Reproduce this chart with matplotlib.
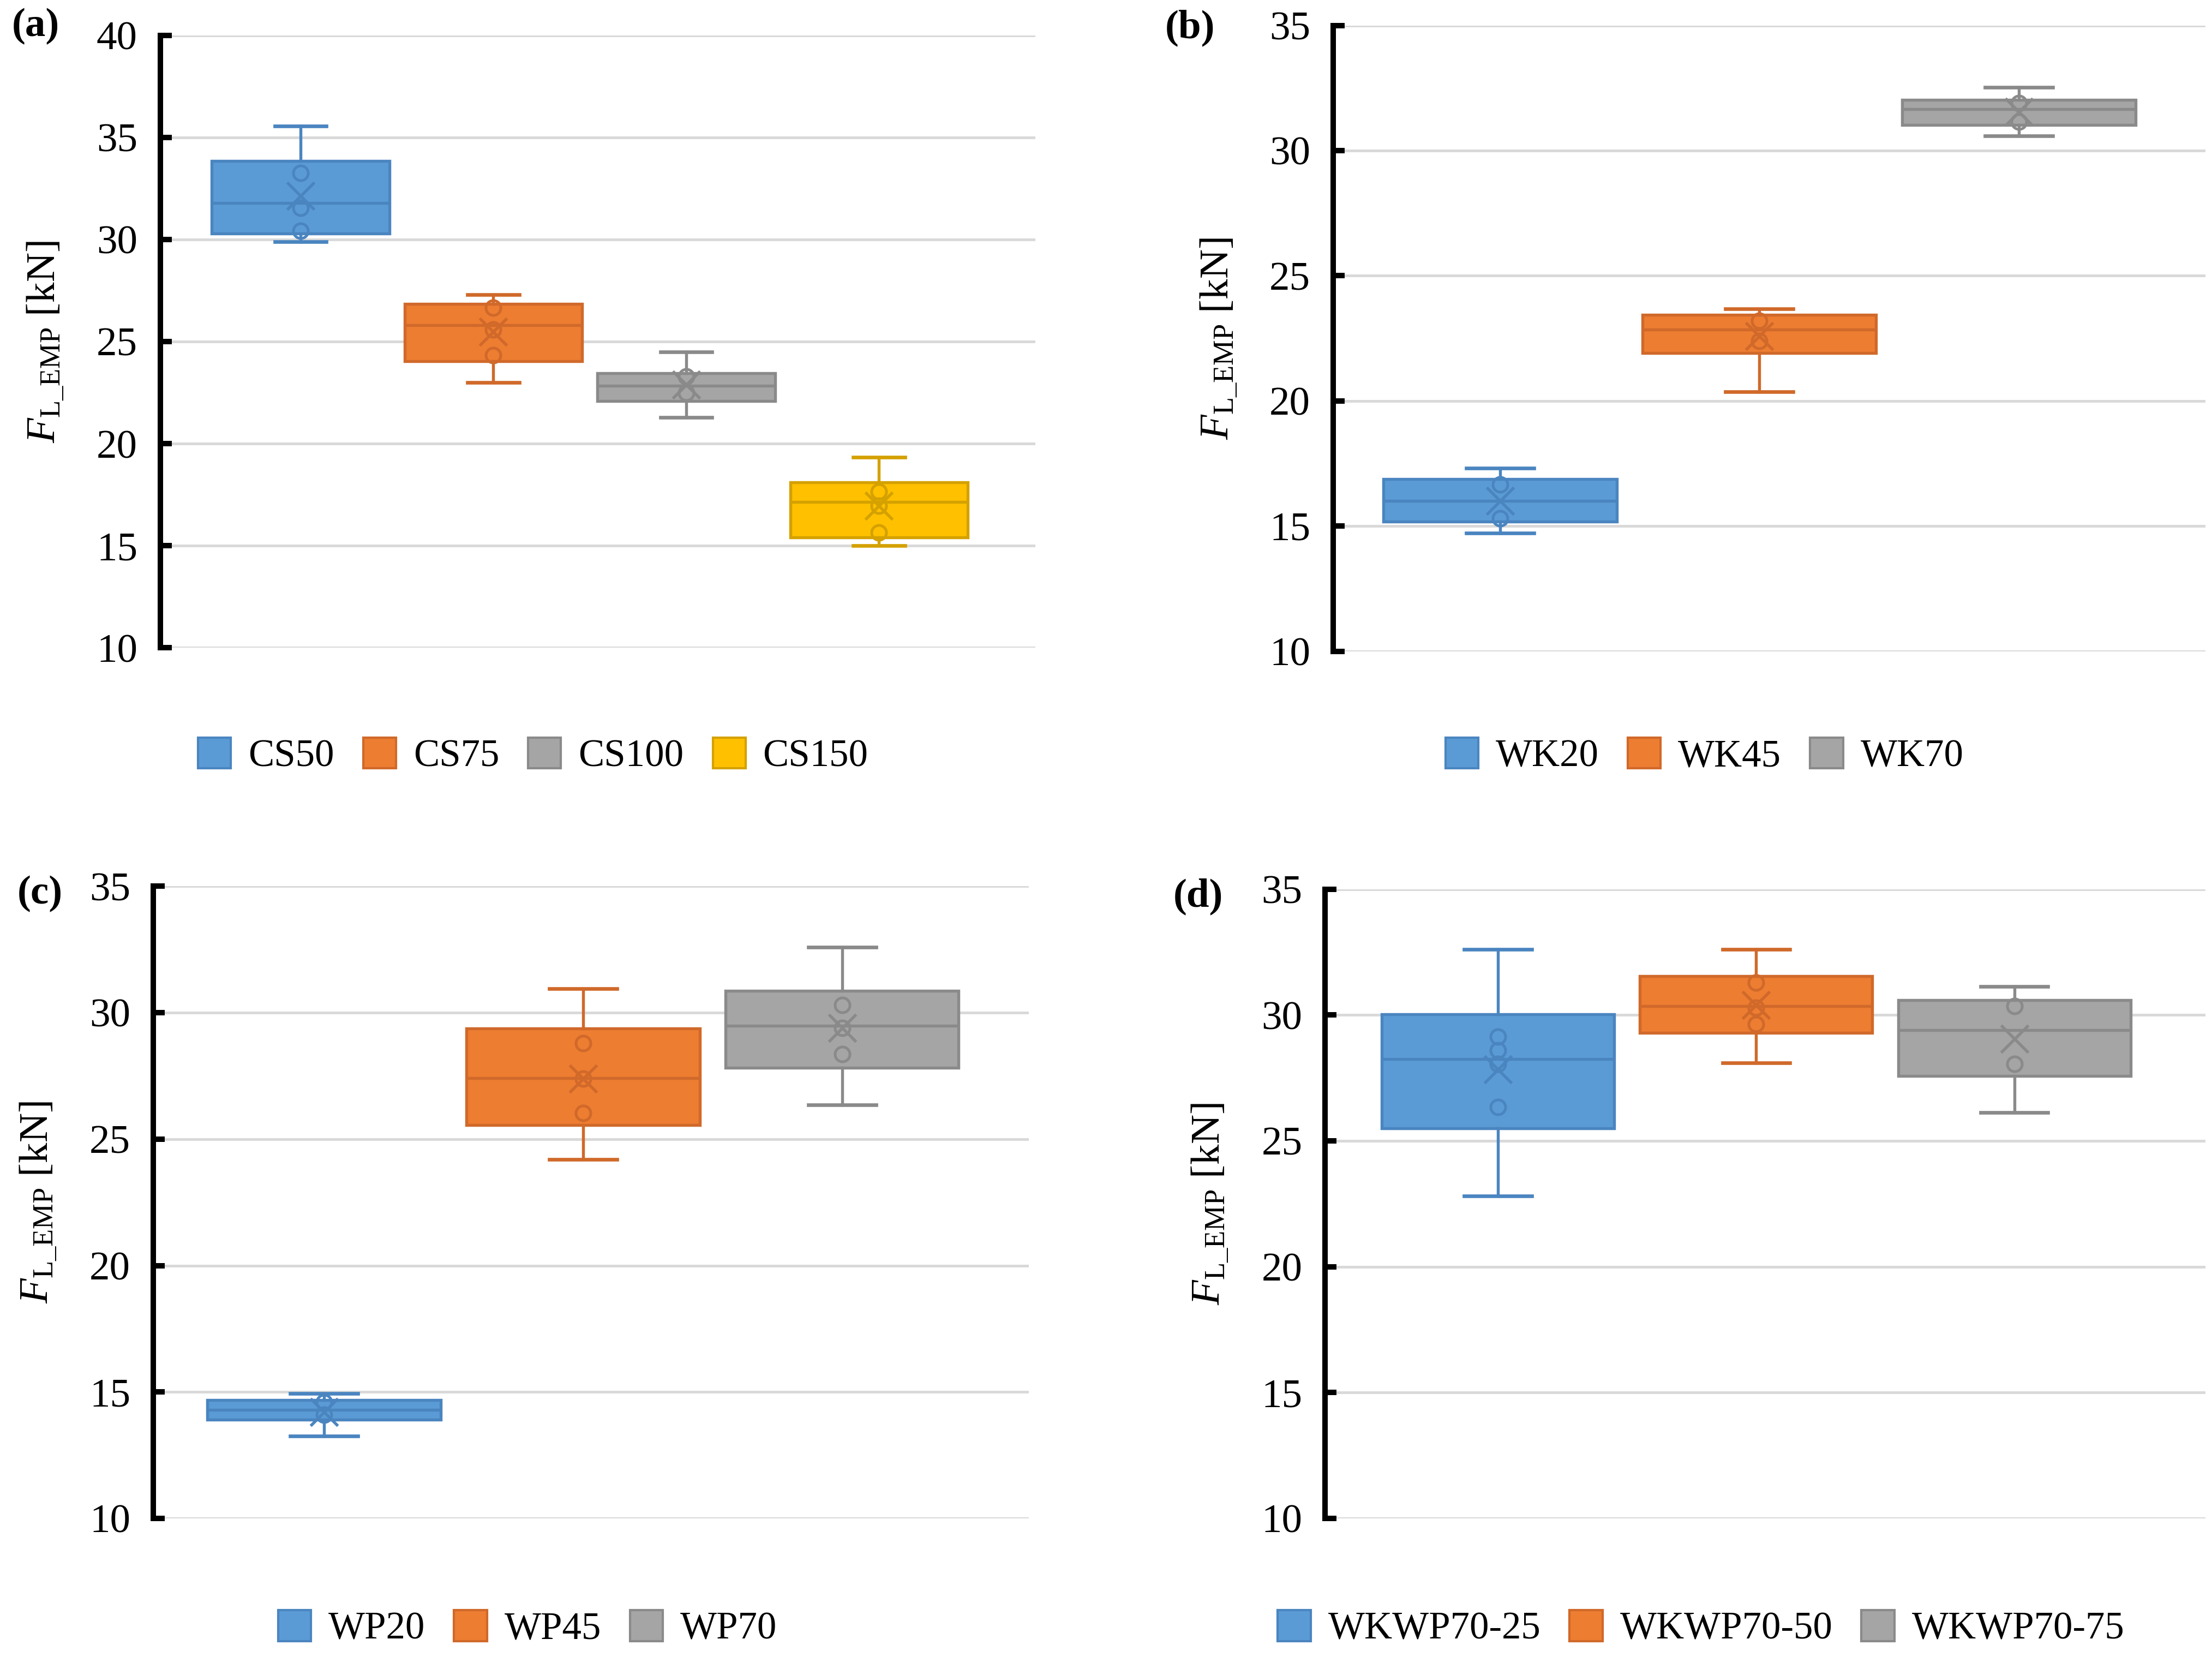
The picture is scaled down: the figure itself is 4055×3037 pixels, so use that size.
import matplotlib
matplotlib.use("Agg")
import matplotlib.pyplot as plt
from matplotlib.patches import Patch

plt.rcParams['font.family'] = ['Liberation Serif', 'DejaVu Serif']
plt.rcParams['mathtext.fontset'] = 'custom'
plt.rcParams['mathtext.rm'] = 'Liberation Serif'
plt.rcParams['mathtext.it'] = 'Liberation Serif:italic'

# ---------------- data ----------------
cats_a = ['CS50', 'CS75', 'CS100', 'CS150']
whislo_a = [29.9, 23.0, 21.3, 15.0]
q1_a = [30.3, 24.05, 22.1, 15.42]
med_a = [31.8, 25.8, 22.85, 17.15]
q3_a = [33.85, 26.85, 23.45, 18.12]
whishi_a = [35.55, 27.3, 24.5, 19.35]
mean_a = [32.15, 25.5, 22.9, 16.95]
pts_a = [[33.27, 31.55, 30.44], [26.65, 25.6, 24.35], [23.3, 22.5], [17.65, 16.95, 15.66]]

cats_b = ['WK20', 'WK45', 'WK70']
whislo_b = [14.73, 20.36, 30.6]
q1_b = [15.17, 21.91, 31.02]
med_b = [16.0, 22.86, 31.65]
q3_b = [16.87, 23.44, 32.03]
whishi_b = [17.31, 23.69, 32.53]
mean_b = [16.0, 22.6, 31.55]
pts_b = [[16.65, 15.3], [23.2, 22.4], [31.9, 31.15]]

cats_c = ['WP20', 'WP45', 'WP70']
whislo_c = [13.27, 24.19, 26.35]
q1_c = [13.9, 25.56, 27.83]
med_c = [14.3, 27.41, 29.49]
q3_c = [14.69, 29.38, 30.87]
whishi_c = [14.94, 30.95, 32.6]
mean_c = [14.2, 27.4, 29.4]
pts_c = [[14.6, 14.1], [28.79, 27.4, 26.03], [30.31, 29.4, 28.36]]

cats_d = ['WKWP70-25', 'WKWP70-50', 'WKWP70-75']
whislo_d = [22.81, 28.09, 26.12]
q1_d = [25.5, 29.3, 27.58]
med_d = [28.26, 30.36, 29.4]
q3_d = [30.02, 31.54, 30.59]
whishi_d = [32.6, 32.6, 31.14]
mean_d = [27.85, 30.4, 29.05]
pts_d = [[29.15, 28.6, 28.05, 26.35], [31.29, 30.3, 29.64], [30.36, 28.05]]

yticks_a = [10, 15, 20, 25, 30, 35, 40]
yticks_bcd = [10, 15, 20, 25, 30, 35]

fills = ['#5B9BD5', '#ED7D31', '#A5A5A5', '#FFC000']
edges = ['#4A85C0', '#D0692A', '#8A8A8A', '#D4A100']

# ---------------- figure ----------------
fig = plt.figure(figsize=(4055 / 300, 3037 / 300), dpi=300)

panels = [
    dict(label='(a)', cats=cats_a, lo=whislo_a, q1=q1_a, med=med_a, q3=q3_a, hi=whishi_a,
         mean=mean_a, pts=pts_a, yt=yticks_a, rect=[0.0724, 0.609, 0.3956, 0.3696],
         xlim=(-0.728, 3.81), width=0.92, lab=(0.016, 0.984),
         leg=(0.241, 0.5437)),
    dict(label='(b)', cats=cats_b, lo=whislo_b, q1=q1_b, med=med_b, q3=q3_b, hi=whishi_b,
         mean=mean_b, pts=pts_b, yt=yticks_bcd, rect=[0.6026, 0.607, 0.3944, 0.3776],
         xlim=(-0.645, 2.72), width=0.9, lab=(0.538, 0.983),
         leg=(0.7706, 0.5437)),
    dict(label='(c)', cats=cats_c, lo=whislo_c, q1=q1_c, med=med_c, q3=q3_c, hi=whishi_c,
         mean=mean_c, pts=pts_c, yt=yticks_bcd, rect=[0.0692, 0.0836, 0.3958, 0.3815],
         xlim=(-0.66, 2.72), width=0.9, lab=(0.018, 0.4606),
         leg=(0.2385, 0.0171)),
    dict(label='(d)', cats=cats_d, lo=whislo_d, q1=q1_d, med=med_d, q3=q3_d, hi=whishi_d,
         mean=mean_d, pts=pts_d, yt=yticks_bcd, rect=[0.599, 0.0836, 0.398, 0.3798],
         xlim=(-0.67, 2.74), width=0.9, lab=(0.5417, 0.459),
         leg=(0.769, 0.0171)),
]

for p in panels:
    ax = fig.add_axes(p['rect'])
    n = len(p['cats'])
    pos = list(range(n))
    stats = []
    for i in range(n):
        stats.append(dict(label=p['cats'][i], whislo=p['lo'][i], q1=p['q1'][i],
                          med=p['med'][i], q3=p['q3'][i], whishi=p['hi'][i], fliers=[]))
    for i in range(n):
        ax.bxp([stats[i]], positions=[pos[i]], widths=p['width'], patch_artist=True,
               showfliers=False, capwidths=p['width'] * 0.29,
               boxprops=dict(facecolor=fills[i], edgecolor=edges[i], linewidth=1.3),
               whiskerprops=dict(color=edges[i], linewidth=1.3),
               capprops=dict(color=edges[i], linewidth=1.6),
               medianprops=dict(color=edges[i], linewidth=1.3),
               zorder=3)
        ax.plot([pos[i]] * len(p['pts'][i]), p['pts'][i], linestyle='none', marker='o',
                mfc='none', mec=edges[i], mew=1.2, ms=6.5, zorder=4)
        ax.plot([pos[i]], [p['mean'][i]], linestyle='none', marker='x',
                mec=edges[i], mew=1.3, ms=12, zorder=5)

    ax.set_xlim(*p['xlim'])
    ax.set_ylim(p['yt'][0], p['yt'][-1])
    ax.set_yticks(p['yt'])
    ax.set_xticks([])
    ax.yaxis.grid(True, color='#D9D9D9', linewidth=1.2, zorder=0)
    ax.set_axisbelow(True)
    for s in ['top', 'right', 'bottom']:
        ax.spines[s].set_visible(False)
    ax.spines['left'].set_linewidth(2.4)
    ax.spines['left'].set_color('black')
    ax.tick_params(axis='y', direction='in', length=5, width=2.4, pad=10,
                   labelsize=18, colors='black')
    ax.set_ylabel(r'$F_{\mathrm{L\_EMP}}$ [kN]', fontsize=18)
    ax.yaxis.set_label_coords(-0.108, 0.5)

    fig.text(p['lab'][0], p['lab'][1], p['label'], fontsize=18, fontweight='bold',
             ha='center', va='center')

    handles = [Patch(facecolor=fills[i], edgecolor=edges[i], linewidth=1.0) for i in range(n)]
    fig.legend(handles, p['cats'], loc='center', bbox_to_anchor=p['leg'], ncol=n,
               frameon=False, fontsize=17, handlelength=0.85, handleheight=0.85,
               handletextpad=0.45, columnspacing=0.75)

fig.savefig('out.png', dpi=300, facecolor='white')
